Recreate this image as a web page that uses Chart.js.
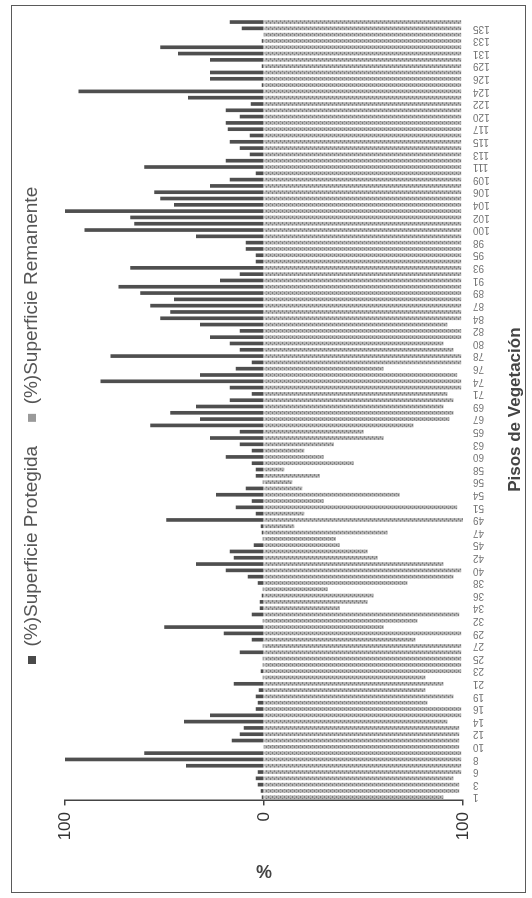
<!DOCTYPE html>
<html>
<head>
<meta charset="utf-8">
<script src="https://cdn.jsdelivr.net/npm/chart.js@4.4.0/dist/chart.umd.min.js"></script>
<style>
  html, body { margin: 0; padding: 0; background: #fff; }
  body { width: 532px; height: 898px; overflow: hidden; position: relative; }
  /* el grafico se dibuja horizontal y se gira 90 grados, como en el original */
  #giro { position: absolute; left: 0; top: 0; width: 898px; height: 532px;
          transform-origin: 0 0; transform: translateY(898px) rotate(-90deg); }
  #marco { position: absolute; left: 5px; top: 11px; width: 886px; height: 513px;
           border: 1.5px solid #5a5a5a; }
  #grafico { position: absolute; left: 0; top: 0; }
</style>
</head>
<body>
<div id="giro">
  <div id="marco"></div>
  <canvas id="grafico" width="898" height="532" style="width:898px;height:532px"></canvas>
</div>
<script>
// numero de piso de vegetacion (se leen uno si y otro no en el original)
let pisos = [
  1, 2, 3, 4, 6, 7, 8, 9, 10, 11, 12, 13, 14, 15, 16, 17,
  19, 20, 21, 22, 23, 24, 25, 26, 27, 28, 29, 30,
  32, 33, 34, 35, 36, 37, 38, 39, 40, 41, 42, 43,
  45, 46, 47, 48, 49, 50, 51,
  53, 54, 55, 56, 57, 58, 59, 60,
  62, 63, 64, 65, 66, 67, 68, 69, 70, 71, 72,
  74, 75, 76, 77, 78, 79, 80, 81, 82, 83, 84,
  86, 87, 88, 89, 90, 91, 92, 93, 94, 95,
  97, 98, 99, 100, 101, 102, 103, 104, 105, 106,
  108, 109, 110, 111, 112, 113, 114, 115, 116, 117,
  119, 120, 121, 122, 123, 124, 125, 126,
  128, 129, 130, 131, 132, 133, 134, 135, 136
];

let protegida = [
  1, 1.5, 3, 4, 3, 39, 100, 60, 0, 16, 12, 10, 40, 27, 4, 3,
  4, 2.5, 15, 0.5, 1.5, 0.5, 0.5, 12, 0.5, 6, 20, 50, 0.5, 6,
  2, 2, 1, 0.5, 3, 8, 19, 34, 15, 17, 5, 0.5, 1, 1.5,
  49, 4, 14, 6, 24, 9, 0.5, 4, 4, 6, 19, 6, 12, 27,
  12, 57, 32, 47, 34, 17, 6, 17, 82, 32, 14, 6, 77, 12,
  17, 27, 12, 32, 52, 47, 57, 45, 62, 73, 22, 12, 67, 4,
  4, 9, 9, 34, 90, 65, 67, 100, 45, 52, 55, 27, 17, 4,
  60, 19, 7, 12, 17, 7, 18, 19, 12, 19,
  6.5, 38, 93, 1, 27, 27, 1, 27, 43, 52, 1, 0, 11, 17
];

let remanente = [
  90, 98, 98, 95, 99, 99, 99, 99, 98, 98, 98, 98, 92, 99, 99, 82,
  95, 81, 90, 81, 99, 99, 99, 99, 99, 76, 99, 60, 77, 98,
  38, 52, 55, 32, 72, 95, 99, 90, 57, 52, 38, 36, 62, 15,
  100, 20, 97, 30, 68, 19, 14, 28, 10, 45, 30, 20, 35, 60,
  50, 75, 93, 95, 90, 95, 92, 99, 99, 97, 60, 99, 99, 95,
  90, 99, 99, 92, 99, 99, 99, 99, 99, 99, 99, 99, 99, 99,
  99, 99, 99, 99, 99, 99, 99, 99, 99, 99, 99, 99, 99, 99,
  99, 99, 99, 99, 99, 99, 99, 99, 99, 99,
  99, 99, 99, 99, 99, 99, 99, 99, 99, 99, 99, 99, 99, 99
];

let marcasValor = [-100, 0, 100];

function crearTrama() {
  let c = document.createElement("canvas");
  c.width = 4;
  c.height = 4;
  let g = c.getContext("2d");
  g.fillStyle = "#b4b4b4";
  g.fillRect(0, 0, 4, 4);
  g.fillStyle = "#7e7e7e";
  g.fillRect(0, 0, 2, 1);
  g.fillRect(2, 2, 2, 1);
  return g.createPattern(c, "repeat");
}

// coloca la leyenda donde esta en el original
let moverLeyenda = {
  id: "moverLeyenda",
  beforeDraw(chart) {
    chart.legend.left = 234 - 24;
    chart.legend.top = 32 - 24 - 9.5;
  }
};

let fuente = "'Liberation Sans', Arial, sans-serif";

new Chart(document.getElementById("grafico"), {
  type: "bar",
  data: {
    labels: pisos,
    datasets: [{
      label: "(%)Superficie Protegida",
      data: protegida,
      backgroundColor: "#4f4f4f",
      barThickness: 3
    }, {
      label: "(%)Superficie Remanente",
      data: remanente.map(v => -v),
      backgroundColor: crearTrama(),
      barThickness: 3
    }]
  },
  options: {
    responsive: false,
    animation: false,
    devicePixelRatio: 1,
    layout: { padding: { top: 0, left: 8, right: 13.6, bottom: 3 } },
    plugins: {
      legend: {
        align: "start",
        labels: {
          font: { family: fuente, size: 19 },
          color: "#555",
          boxWidth: 8,
          boxHeight: 8,
          padding: 24,
          generateLabels: function (chart) {
            let items = Chart.defaults.plugins.legend.labels.generateLabels(chart);
            items[0].fillStyle = "#4a4a4a";
            items[1].fillStyle = "#9a9a9a";
            items.forEach(it => { it.lineWidth = 0; });
            return items;
          }
        }
      },
      title: {
        display: true,
        text: "",
        weight: 500,
        font: { size: 10, lineHeight: 1.2 },
        padding: { top: 0, bottom: 0 }
      },
      tooltip: { enabled: false }
    },
    scales: {
      x: {
        stacked: true,
        grid: { display: false, drawTicks: false, tickLength: 0 },
        border: { display: false },
        ticks: {
          autoSkip: false,
          minRotation: 90,
          maxRotation: 90,
          padding: 10,
          color: "#777",
          font: { family: fuente, size: 10 },
          callback: function (v, i) {
            return i % 2 == 0 ? this.getLabelForValue(v) : "";
          }
        },
        title: {
          display: true,
          text: "Pisos de Vegetación",
          color: "#444",
          font: { family: fuente, size: 17, weight: "bold" },
          padding: { top: 0, bottom: 3 }
        },
        afterFit: function (s) { s.height = 532 - 3 - 463; }
      },
      y: {
        stacked: true,
        min: -100,
        max: 100,
        afterBuildTicks: function (s) { s.ticks = marcasValor.map(v => ({ value: v })); },
        ticks: {
          padding: 6.6,
          color: "#333",
          font: { family: fuente, size: 17 },
          callback: v => Math.abs(v)
        },
        grid: { drawOnChartArea: false, tickLength: 5, color: "#444", lineWidth: 1.5 },
        border: { color: "#444", width: 1.5 },
        title: {
          display: true,
          text: "%",
          color: "#444",
          font: { family: fuente, size: 18, weight: "bold" },
          padding: { top: 9 }
        },
        afterFit: function (s) { s.width = 97.6 - 8; }
      }
    }
  },
  plugins: [moverLeyenda]
});
</script>
</body>
</html>
